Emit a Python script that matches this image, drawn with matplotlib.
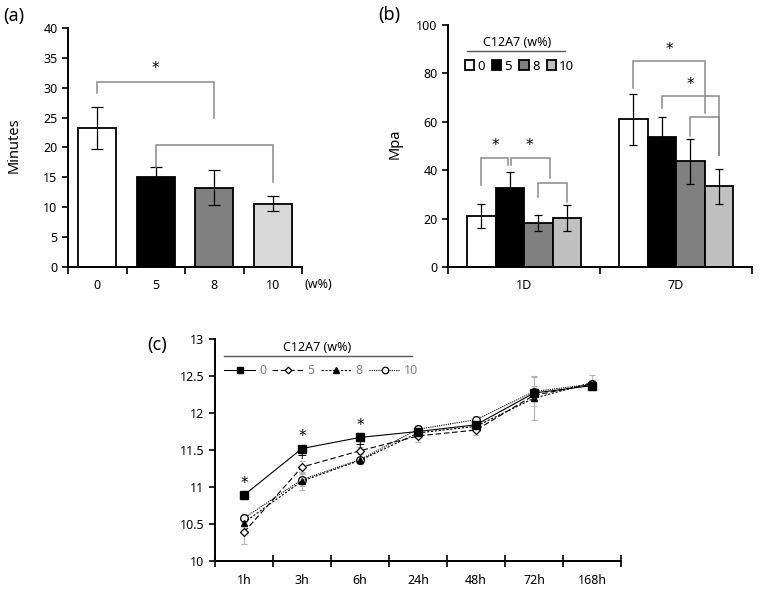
import matplotlib
matplotlib.use('Agg')
import matplotlib.pyplot as plt
import numpy as np
from matplotlib.patches import Patch
from matplotlib.lines import Line2D

plt.rcParams['font.family'] = ['Noto Sans', 'DejaVu Sans']
plt.rcParams['font.size'] = 9

# ---------------- data ----------------
# (a) setting time
a_labels = ['0', '5', '8', '10']
a_values = [23.3, 15.0, 13.3, 10.6]
a_errors = [3.5, 1.7, 2.9, 1.2]
a_colors = ['white', 'black', '#808080', '#d9d9d9']

# (b) compressive strength
b_days = ['1D', '7D']
b_groups = ['0', '5', '8', '10']
b_1d = [21.0, 32.8, 18.0, 20.1]
b_1d_err = [5.0, 6.6, 3.3, 5.4]
b_7d = [61.0, 53.7, 43.7, 33.3]
b_7d_err = [10.5, 8.1, 9.3, 7.1]
b_colors = ['white', 'black', '#808080', '#c0c0c0']

# (c) pH over time
c_hours = ['1h', '3h', '6h', '24h', '48h', '72h', '168h']
c_0 = [10.89, 11.52, 11.67, 11.75, 11.84, 12.27, 12.37]
c_5 = [10.39, 11.27, 11.49, 11.69, 11.77, 12.24, 12.39]
c_8 = [10.52, 11.08, 11.36, 11.73, 11.82, 12.20, 12.41]
c_10 = [10.58, 11.10, 11.37, 11.78, 11.91, 12.29, 12.39]
c_0_err = [0.04, 0.03, 0.02, 0.05, 0.05, 0.10, 0.03]
c_5_err = [0.16, 0.08, 0.05, 0.08, 0.07, 0.08, 0.05]
c_8_err = [0.05, 0.12, 0.05, 0.06, 0.05, 0.30, 0.10]
c_10_err = [0.05, 0.08, 0.04, 0.06, 0.05, 0.20, 0.05]
c_labels = ['0', '5', '8', '10']

BR = '#8a8a8a'

fig = plt.figure(figsize=(7.64, 5.89), dpi=100)
W, H = 764, 589
axa = fig.add_axes([68 / W, 1 - 267 / H, 234 / W, 239 / H])
axb = fig.add_axes([448 / W, 1 - 267 / H, 304 / W, 242 / H])
axc = fig.add_axes([215 / W, 1 - 561 / H, 406 / W, 222 / H])


def style(ax):
    for s in ['top', 'right']:
        ax.spines[s].set_visible(False)
    for s in ['left', 'bottom']:
        ax.spines[s].set_linewidth(1.4)
        ax.spines[s].set_color('black')
    ax.tick_params(axis='y', direction='out', length=4, width=1.2)


def bracket(ax, x1, x2, y, y1, y2, color=BR, lw=1.1):
    ax.plot([x1, x1, x2, x2], [y1, y, y, y2], color=color, lw=lw,
            solid_joinstyle='miter', zorder=4)


def star(ax, x, y, size=11):
    ax.text(x, y, '*', ha='center', va='center', fontsize=size,
            family='DejaVu Sans', zorder=5)


# ---------------- (a) ----------------
xa = np.arange(len(a_labels))
axa.bar(xa, a_values, width=0.65, color=a_colors, edgecolor='black',
        linewidth=1.3, yerr=a_errors,
        error_kw=dict(ecolor='black', elinewidth=0.9, capsize=4, capthick=0.9))
style(axa)
axa.set_xlim(-0.5, len(a_labels) - 0.5)
axa.set_ylim(0, 40)
axa.set_yticks(np.arange(0, 41, 5))
axa.set_xticks(np.arange(-0.5, len(a_labels)))
axa.set_xticklabels([])
axa.set_xticks(xa, minor=True)
axa.set_xticklabels(a_labels, minor=True)
axa.tick_params(axis='x', which='major', direction='out', length=5, width=1.2)
axa.tick_params(axis='x', which='minor', length=0, pad=9)
axa.set_ylabel('Minutes', fontsize=10.5)
axa.yaxis.set_label_coords(-0.2, 0.51)
axa.text(3.5 + 0.04, -0.075, '(w%)', transform=axa.get_xaxis_transform(),
         ha='left', va='center', fontsize=9)
bracket(axa, xa[0], xa[2], 31.0, 29.2, 24.9)
star(axa, xa[1], 33.2)
bracket(axa, xa[1], xa[3], 20.5, a_values[1] + a_errors[1], 14.3)

# ---------------- (b) ----------------
xb = np.arange(len(b_days))
bw = 0.1875
offs = (np.arange(len(b_groups)) - 1.5) * bw
handles_b = []
for i, g in enumerate(b_groups):
    axb.bar(xb + offs[i], [b_1d[i], b_7d[i]], width=bw, color=b_colors[i],
            edgecolor='black', linewidth=1.3,
            yerr=[b_1d_err[i], b_7d_err[i]],
            error_kw=dict(ecolor='black', elinewidth=0.9, capsize=3, capthick=0.9))
    handles_b.append(Patch(facecolor=b_colors[i], edgecolor='black', linewidth=1.3))
style(axb)
axb.set_xlim(-0.5, len(b_days) - 0.5)
axb.set_ylim(0, 100)
axb.set_yticks(np.arange(0, 101, 20))
axb.set_xticks(np.arange(-0.5, len(b_days)))
axb.set_xticklabels([])
axb.set_xticks(xb, minor=True)
axb.set_xticklabels(b_days, minor=True)
axb.tick_params(axis='x', which='major', direction='out', length=5, width=1.2)
axb.tick_params(axis='x', which='minor', length=0, pad=9)
axb.set_ylabel('Mpa', fontsize=10.5)
axb.yaxis.set_label_coords(-0.15, 0.51)

# 1D brackets
c1 = xb[0] + offs
bracket(axb, c1[0], c1[1] - 0.01, 45.0, 34.0, 42.0)
bracket(axb, c1[1] + 0.01, c1[2] + 0.4 * bw, 45.0, 42.0, 36.6)
star(axb, (c1[0] + c1[1]) / 2, 50.2)
star(axb, (c1[1] + c1[2] + 0.4 * bw) / 2, 50.2)
bracket(axb, c1[2], c1[3], 34.7, 29.0, 27.0)
# 7D brackets
c7 = xb[1] + offs
bracket(axb, c7[0], c7[2] + 0.5 * bw, 85.0, 74.0, 63.5)
star(axb, (c7[0] + c7[2] + 0.5 * bw) / 2, 90.0)
bracket(axb, c7[1], c7[3], 70.5, 65.6, 46.3)
star(axb, (c7[1] + c7[3]) / 2, 75.6)
bracket(axb, c7[2], c7[3], 61.8, 54.0, 46.3)

# legend (b)
axb.text(0.227, 0.926, 'C12A7 (w%)', transform=axb.transAxes, ha='center',
         va='center', fontsize=9)
axb.add_line(Line2D([0.0625, 0.385], [0.893, 0.893], transform=axb.transAxes,
                    color='#555555', lw=1.0))
axb.legend(handles_b, b_groups, ncol=4, loc='center left',
           bbox_to_anchor=(0.055, 0.83), frameon=False, handlelength=0.7,
           handleheight=0.7, handletextpad=0.25, columnspacing=0.55,
           borderaxespad=0, borderpad=0, fontsize=9.5)

# ---------------- (c) ----------------
xc = np.arange(len(c_hours))
series = [
    (c_0, c_0_err, dict(ls='-', marker='s', ms=5.5, mfc='black', mec='black')),
    (c_5, c_5_err, dict(ls=(0, (5, 2.5)), marker='D', ms=4, mfc='white', mec='black', mew=0.9)),
    (c_8, c_8_err, dict(ls=(0, (2, 1.5)), marker='^', ms=5, mfc='black', mec='black')),
    (c_10, c_10_err, dict(ls=(0, (1, 1)), marker='o', ms=5.5, mfc='white', mec='black', mew=0.9)),
]
handles_c = []
for vals, errs, kw in series:
    axc.errorbar(xc, vals, yerr=errs, fmt='none', ecolor='#b5b5b5',
                 elinewidth=0.8, capsize=2.5, capthick=0.8, zorder=2)
for vals, errs, kw in reversed(series):
    ln, = axc.plot(xc, vals, color='black', lw=0.8, zorder=3, **kw)
    handles_c.insert(0, ln)

style(axc)
axc.set_xlim(-0.5, len(c_hours) - 0.5)
axc.set_ylim(10, 13)
axc.set_yticks(np.arange(10, 13.01, 0.5))
axc.set_yticklabels(['10', '10.5', '11', '11.5', '12', '12.5', '13'])
axc.set_xticks(np.arange(-0.5, len(c_hours)))
axc.set_xticklabels([])
axc.set_xticks(xc, minor=True)
axc.set_xticklabels(c_hours, minor=True)
axc.tick_params(axis='x', which='major', direction='inout', length=8, width=1.2)
axc.tick_params(axis='x', which='minor', length=0, pad=9)

# significance marks (c)
for i in range(3):
    star(axc, xc[i], c_0[i] + 0.16)
for i in (1, 2):
    axc.text(xc[i], c_0[i] - 0.09, '+', ha='center', va='center', fontsize=9,
             family='DejaVu Sans', zorder=5)

axc.text(0.251, 0.963, 'C12A7 (w%)', transform=axc.transAxes, ha='center',
         va='center', fontsize=9)
axc.add_line(Line2D([0.022, 0.485], [0.923, 0.923], transform=axc.transAxes,
                    color='#555555', lw=1.0))
leg = axc.legend(handles_c, c_labels, ncol=4, loc='center left',
                 bbox_to_anchor=(0.022, 0.857), frameon=False, handlelength=2.5,
                 handletextpad=0.3, columnspacing=0.5, borderaxespad=0,
                 borderpad=0, fontsize=9, markerscale=0.85)
for t in leg.get_texts():
    t.set_color('#808080')

# panel labels
fig.text(3 / W, 1 - 16 / H, '(a)', fontsize=13, va='center', ha='left')
fig.text(378 / W, 1 - 15 / H, '(b)', fontsize=13, va='center', ha='left')
fig.text(147 / W, 1 - 345 / H, '(c)', fontsize=13, va='center', ha='left')

fig.savefig('out.png', dpi=100)
